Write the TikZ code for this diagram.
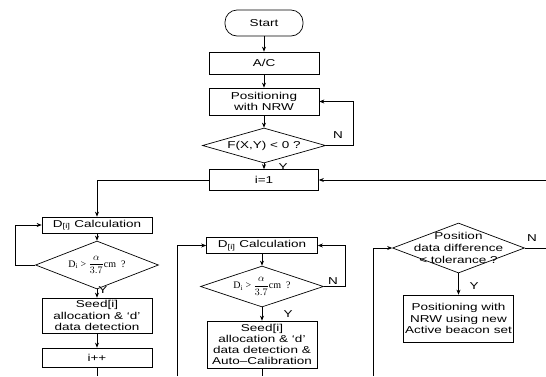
\documentclass[tikz,border=0pt]{standalone}
\usepackage{fontspec}
\setmainfont{Liberation Sans}[FakeStretch=1.35]
\newfontfamily\serif{Liberation Serif}
\usetikzlibrary{shapes.geometric,arrows.meta}
\begin{document}
\begin{tikzpicture}[x=1pt,y=-1pt,line width=0.7pt,
  box/.style={draw, rectangle, inner sep=0pt, align=center, font=\fontsize{10}{11.3}\selectfont},
  dia/.style={draw, diamond, inner sep=0pt},
  txt/.style={inner sep=0pt, align=center, font=\fontsize{10}{12}\selectfont},
  lbl/.style={inner sep=0pt, font=\fontsize{10}{12}\selectfont},
  arr/.style={-{Stealth[length=5pt,width=4pt]}}]
\fill[white] (0,0) rectangle (546,376);
\useasboundingbox (0,0) rectangle (546,376);
% top column
\node[box, rounded corners=12pt, minimum width=78pt, minimum height=26pt] (start) at (264,23) {Start};
\node[box, minimum width=110pt, minimum height=22pt] (ac) at (264,63) {A/C};
\node[box, minimum width=110pt, minimum height=27pt] (pos) at (264,101.5) {Positioning\\with NRW};
\node[dia, minimum width=123pt, minimum height=35pt] (d1) at (264,145.5) {};
\node[txt] at (d1) {F(X,Y) < 0 ?};
\node[box, minimum width=109pt, minimum height=21pt] (i1) at (264,180) {i=1};
\coordinate (inR) at (546,180);
% left column
\node[box, minimum width=110pt, minimum height=16pt] (dL) at (97,225) {D\textsubscript{[i]} Calculation};
\node[dia, minimum width=123pt, minimum height=48pt] (cL) at (97,265) {};
\node[txt] at (cL) {\serif D\textsubscript{i} > $\displaystyle\frac{\alpha}{3.7}$cm\ \ ?};
\node[box, minimum width=110pt, minimum height=35pt] (sL) at (97,315.5) {Seed[i]\\allocation \& ‘d’\\data detection};
\node[box, minimum width=110pt, minimum height=19pt] (ipp) at (97,357.5) {i++};
\coordinate (eL) at (97,376);
% middle column
\node[box, minimum width=111pt, minimum height=16pt] (dM) at (262,245.5) {D\textsubscript{[i]} Calculation};
\node[dia, minimum width=123pt, minimum height=41pt] (cM) at (262,286.5) {};
\node[txt] at (cM) {\serif D\textsubscript{i} > $\displaystyle\frac{\alpha}{3.7}$cm\ \ ?};
\node[box, minimum width=110pt, minimum height=47pt, font=\fontsize{10}{11}\selectfont] (sM) at (262,344.5) {Seed[i]\\allocation \& ‘d’\\data detection \&\\Auto–Calibration};
\coordinate (eM) at (262,376);
\coordinate (bM) at (177,376);
% right column
\node[dia, minimum width=132pt, minimum height=50pt] (cR) at (458.5,248) {};
\node[txt] at (cR) {Position\\data difference\\< tolerance ?};
\node[box, minimum width=110pt, minimum height=47pt] (pR) at (458.5,318.5) {Positioning with\\NRW using new\\Active beacon set};
\coordinate (bR) at (373,376);
\coordinate (nR) at (546,248);
% connectors top
\draw[arr] (start) -- (ac);
\draw[arr] (ac) -- (pos);
\draw[arr] (pos) -- (d1);
\draw[arr] (d1.east) -- ++(27,0) |- (pos.east);
\node[lbl] at (338,135) {N};
\draw[arr] (d1) -- (i1);
\node[lbl] at (283,167) {Y};
\draw[arr] (inR) -- (i1.east);
\draw[arr] (i1.west) -| (dL.north);
% left
\draw[arr] (dL) -- (cL);
\draw[arr] (cL.west) -- ++(-20,0) |- (dL.west);
\draw[arr] (cL) -- (sL);
\node[lbl] at (103,290) {Y};
\draw[arr] (sL) -- (ipp);
\draw (ipp) -- (eL);
% middle
\draw[arr] (bM) |- (dM.west);
\draw[arr] (dM) -- (cM);
\draw[arr] (cM.east) -- ++(21,0) |- (dM.east);
\node[lbl] at (333,281) {N};
\draw[arr] (cM) -- (sM);
\node[lbl] at (288,314) {Y};
\draw (sM) -- (eM);
% right
\draw[arr] (bR) |- (cR.west);
\draw (cR.east) -- (nR);
\node[lbl] at (532,238) {N};
\draw[arr] (cR) -- (pR);
\node[lbl] at (474,286) {Y};
\end{tikzpicture}
\end{document}
